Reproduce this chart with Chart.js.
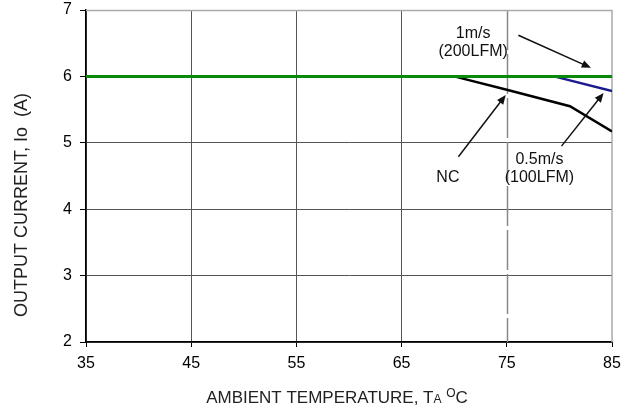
<!DOCTYPE html>
<html>
<head>
<meta charset="utf-8">
<script src="https://cdn.jsdelivr.net/npm/chart.js@4"></script>
<style>
  html,body{margin:0;padding:0;background:#fff}
  #wrap{width:635px;height:412px}
</style>
</head>
<body>
<div id="wrap"><canvas id="derate" width="635" height="412"></canvas></div>
<script>
// derating curves, ambient temp (C) vs output current (A)
const tempTicks = [35, 45, 55, 65, 75, 85];
const currentTicks = [2, 3, 4, 5, 6, 7];

const ncTemp = [35, 70, 75, 81, 85];
const ncCurrent = [6, 6, 5.8, 5.55, 5.17];

const halfTemp = [35, 79.5, 85];
const halfCurrent = [6, 6, 5.78];

const oneTemp = [35, 85];
const oneCurrent = [6, 6];

// callouts: text lines + arrow (data units)
const notes = [
  { lines: ['1m/s', '(200LFM)'], at: [71.8, 6.64], arrow: [[76.1, 6.62], [83.0, 6.13]] },
  { lines: ['NC'], at: [69.4, 4.48], arrow: [[70.4, 4.79], [74.9, 5.72]] },
  { lines: ['0.5m/s', '(100LFM)'], at: [78.1, 4.74], arrow: [[80.2, 4.95], [84.2, 5.75]] }
];

const FONT = '"Liberation Sans", Arial, sans-serif';
const pts = (xs, ys) => xs.map((x, i) => ({ x, y: ys[i] }));

const overlay = {
  id: 'overlay',
  beforeDatasetsDraw(chart){
    const { ctx, chartArea: a, scales: { x } } = chart;
    ctx.save();
    // dashed 75C line
    ctx.strokeStyle = '#888'; ctx.lineWidth = 1.5;
    ctx.setLineDash([40, 4]);
    const px = Math.round(x.getPixelForValue(75)) + 0.5;
    ctx.beginPath(); ctx.moveTo(px, a.top); ctx.lineTo(px, a.bottom); ctx.stroke();
    ctx.setLineDash([]);
    // top + right frame
    ctx.strokeStyle = '#aaa'; ctx.lineWidth = 1.5;
    ctx.beginPath();
    ctx.moveTo(a.left, a.top + 0.5); ctx.lineTo(a.right, a.top + 0.5);
    ctx.lineTo(a.right, a.bottom);
    ctx.stroke();
    ctx.restore();
  },
  afterDraw(chart){
    const { ctx, chartArea: a, scales: { x, y } } = chart;
    ctx.save();
    ctx.fillStyle = '#111'; ctx.strokeStyle = '#111';
    ctx.font = '16px ' + FONT;
    ctx.textAlign = 'center'; ctx.textBaseline = 'middle';
    notes.forEach(n => {
      const cx = x.getPixelForValue(n.at[0]);
      const cy = y.getPixelForValue(n.at[1]);
      n.lines.forEach((t, i) => ctx.fillText(t, cx, cy + i * 18));
      const x0 = x.getPixelForValue(n.arrow[0][0]), y0 = y.getPixelForValue(n.arrow[0][1]);
      const x1 = x.getPixelForValue(n.arrow[1][0]), y1 = y.getPixelForValue(n.arrow[1][1]);
      const ang = Math.atan2(y1 - y0, x1 - x0);
      ctx.lineWidth = 1.5;
      ctx.beginPath(); ctx.moveTo(x0, y0);
      ctx.lineTo(x1 - 6 * Math.cos(ang), y1 - 6 * Math.sin(ang)); ctx.stroke();
      ctx.beginPath();
      ctx.moveTo(x1, y1);
      ctx.lineTo(x1 - 10 * Math.cos(ang - 0.4), y1 - 10 * Math.sin(ang - 0.4));
      ctx.lineTo(x1 - 10 * Math.cos(ang + 0.4), y1 - 10 * Math.sin(ang + 0.4));
      ctx.closePath(); ctx.fill();
    });
    ctx.fillStyle = '#222';
    // y axis title
    ctx.save();
    ctx.translate(a.left - 64, a.top + 195);
    ctx.rotate(-Math.PI / 2);
    ctx.font = '18px ' + FONT;
    ctx.textAlign = 'center'; ctx.textBaseline = 'middle';
    ctx.fillText('OUTPUT CURRENT, Io  (A)', 0, 0);
    ctx.restore();
    // x axis title with sub/superscript
    const big = '17px ' + FONT;
    const small = '12px ' + FONT;
    const parts = [['AMBIENT TEMPERATURE, T', big, 0], ['A', small, 0], [' ', big, 0], ['O', small, -6], ['C', big, 0]];
    ctx.textAlign = 'left'; ctx.textBaseline = 'alphabetic';
    let w = 0;
    parts.forEach(p => { ctx.font = p[1]; w += ctx.measureText(p[0]).width; });
    let sx = a.left + 251 - w / 2;
    parts.forEach(p => { ctx.font = p[1]; ctx.fillText(p[0], sx, a.bottom + 61 + p[2]); sx += ctx.measureText(p[0]).width; });
    ctx.restore();
  }
};

new Chart(document.getElementById('derate'), {
  type: 'line',
  data: {
    datasets: [
      { label: 'NC', data: pts(ncTemp, ncCurrent), borderColor: '#000', borderWidth: 2.5, order: 2 },
      { label: '0.5m/s', data: pts(halfTemp, halfCurrent), borderColor: '#1a1a8c', borderWidth: 2.5, order: 1 },
      { label: '1m/s', data: pts(oneTemp, oneCurrent), borderColor: '#0a8a0a', borderWidth: 3, order: 0 }
    ]
  },
  options: {
    responsive: false,
    animation: false,
    layout: { padding: { top: 10, right: 23, left: 0, bottom: 0 } },
    elements: { point: { radius: 0 }, line: { tension: 0 } },
    plugins: { legend: { display: false }, tooltip: { enabled: false } },
    scales: {
      x: {
        type: 'linear', min: 35, max: 85,
        afterBuildTicks: s => { s.ticks = tempTicks.map(v => ({ value: v })); },
        afterFit: s => { s.height = 70; s.paddingLeft = 0; s.paddingRight = 0; },
        grid: {
          color: c => (c.tick && (c.tick.value === 75 || c.tick.value === 85)) ? 'rgba(0,0,0,0)' : '#555',
          tickColor: '#000', tickLength: 5, lineWidth: 1
        },
        border: { color: '#000', width: 1.5 },
        ticks: { color: '#000', font: { family: FONT, size: 16 }, padding: 7, maxRotation: 0 }
      },
      y: {
        min: 2, max: 7,
        afterBuildTicks: s => { s.ticks = currentTicks.map(v => ({ value: v })); },
        afterFit: s => { s.width = 86; s.paddingTop = 0; s.paddingBottom = 0; },
        grid: {
          color: c => (c.tick && c.tick.value === 7) ? 'rgba(0,0,0,0)' : '#555',
          tickColor: '#000', tickLength: 6, lineWidth: 1
        },
        border: { color: '#000', width: 1.5 },
        ticks: { color: '#000', font: { family: FONT, size: 16 }, padding: 8 }
      }
    }
  },
  plugins: [overlay]
});
</script>
</body>
</html>
